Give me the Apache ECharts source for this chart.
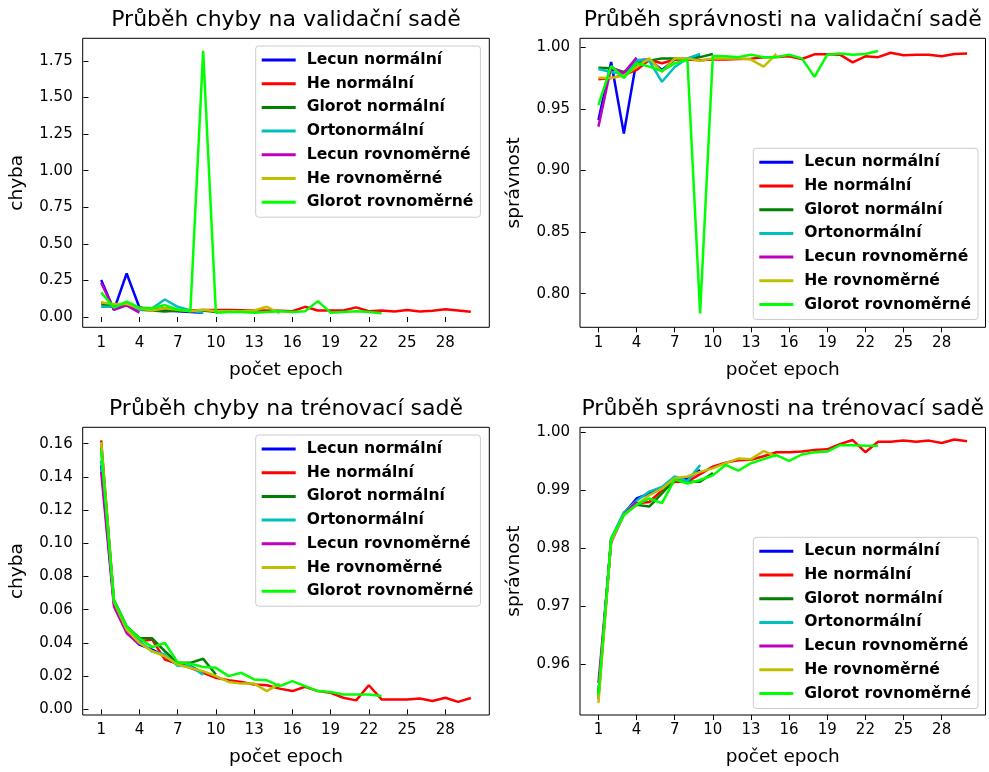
<!DOCTYPE html>
<html><head><meta charset="utf-8">
<script src="https://cdn.jsdelivr.net/npm/echarts@6/dist/echarts.min.js"></script>
<style>html,body{margin:0;padding:0;background:#fff}#c{width:989px;height:772px}</style>
</head><body><div id="c"></div>
<script>
// ---- categories / labels ----
const seriesNames = ['Lecun normální','He normální','Glorot normální','Ortonormální','Lecun rovnoměrné','He rovnoměrné','Glorot rovnoměrné'];
const xTicks = [1,4,7,10,13,16,19,22,25,28];
const yTicksValLoss = [0,0.25,0.5,0.75,1,1.25,1.5,1.75];
const yTicksValAcc = [0.80,0.85,0.90,0.95,1.00];
const yTicksTrainLoss = [0,0.02,0.04,0.06,0.08,0.10,0.12,0.14,0.16];
const yTicksTrainAcc = [0.96,0.97,0.98,0.99,1.00];
const titles = ['Průběh chyby na validační sadě','Průběh správnosti na validační sadě','Průběh chyby na trénovací sadě','Průběh správnosti na trénovací sadě'];
const xName = 'počet epoch';
const yNames = ['chyba','správnost','chyba','správnost'];

// ---- validation loss ----
const lecunNormalValLoss = [0.253,0.048,0.298,0.065,0.05,0.045,0.04,0.035,0.03];
const heNormalValLoss = [0.098,0.085,0.08,0.065,0.05,0.06,0.05,0.045,0.048,0.048,0.048,0.047,0.045,0.045,0.043,0.04,0.07,0.045,0.045,0.045,0.066,0.04,0.045,0.038,0.048,0.038,0.043,0.053,0.045,0.036];
const glorotNormalValLoss = [0.085,0.08,0.08,0.05,0.045,0.038,0.045,0.04,0.045,0.035];
const orthonormalValLoss = [0.07,0.07,0.085,0.05,0.06,0.12,0.07,0.045,0.03];
const lecunUniformValLoss = [0.235,0.05,0.08,0.03];
const heUniformValLoss = [0.1,0.09,0.09,0.06,0.045,0.06,0.05,0.04,0.05,0.04,0.04,0.04,0.045,0.07,0.026];
const glorotUniformValLoss = [0.169,0.064,0.105,0.064,0.06,0.082,0.05,0.043,1.82,0.03,0.035,0.035,0.03,0.035,0.04,0.035,0.04,0.109,0.03,0.035,0.04,0.035,0.026];

// ---- validation accuracy ----
const lecunNormalValAcc = [0.941,0.988,0.930,0.9895,0.990,0.9816,0.990,0.991,0.993];
const heNormalValAcc = [0.974,0.975,0.9775,0.9816,0.9897,0.987,0.990,0.990,0.9895,0.990,0.990,0.9905,0.9908,0.992,0.9922,0.9927,0.9905,0.9943,0.9943,0.994,0.9878,0.9927,0.992,0.9956,0.9935,0.994,0.994,0.9927,0.9945,0.995];
const glorotNormalValAcc = [0.9834,0.983,0.980,0.987,0.989,0.991,0.991,0.990,0.992,0.9945];
const orthonormalValAcc = [0.9824,0.980,0.978,0.9896,0.989,0.972,0.984,0.991,0.9946];
const lecunUniformValAcc = [0.9356,0.984,0.979,0.9916];
const heUniformValAcc = [0.9753,0.975,0.977,0.984,0.991,0.980,0.991,0.991,0.989,0.991,0.991,0.991,0.990,0.9843,0.9946];
const glorotUniformValAcc = [0.953,0.9848,0.9752,0.987,0.9843,0.9808,0.987,0.990,0.784,0.993,0.9927,0.992,0.994,0.992,0.992,0.994,0.991,0.976,0.994,0.995,0.994,0.9945,0.997];

// ---- training loss ----
const lecunNormalTrainLoss = [0.147,0.064,0.047,0.039,0.036,0.032,0.027,0.026,0.022];
const heNormalTrainLoss = [0.162,0.065,0.047,0.041,0.042,0.030,0.0275,0.025,0.022,0.019,0.0175,0.0165,0.015,0.0145,0.0125,0.011,0.0136,0.011,0.010,0.007,0.0054,0.0145,0.006,0.006,0.006,0.0065,0.005,0.007,0.0045,0.0068];
const glorotNormalTrainLoss = [0.158,0.066,0.050,0.043,0.0428,0.035,0.028,0.028,0.0305,0.021];
const orthonormalTrainLoss = [0.150,0.065,0.049,0.041,0.0349,0.033,0.0263,0.026,0.0209];
const lecunUniformTrainLoss = [0.143,0.062,0.046,0.039];
const heUniformTrainLoss = [0.161,0.065,0.048,0.040,0.035,0.032,0.027,0.025,0.023,0.020,0.0165,0.0155,0.0155,0.011,0.0155];
const glorotUniformTrainLoss = [0.156,0.0657,0.0498,0.0428,0.0375,0.040,0.0283,0.0275,0.0255,0.025,0.020,0.022,0.018,0.0175,0.014,0.017,0.014,0.011,0.0105,0.009,0.009,0.009,0.008];

// ---- training accuracy ----
const lecunNormalTrainAcc = [0.9550,0.9815,0.9860,0.9886,0.9895,0.9905,0.9915,0.9920,0.9935];
const heNormalTrainAcc = [0.9540,0.9815,0.9860,0.9878,0.9880,0.9900,0.9915,0.9915,0.9928,0.9941,0.9948,0.9952,0.9953,0.9959,0.9966,0.9966,0.9967,0.9970,0.9971,0.9980,0.9987,0.9966,0.9984,0.9984,0.9986,0.9984,0.9986,0.9982,0.9988,0.9985];
const glorotNormalTrainAcc = [0.9550,0.9815,0.9860,0.9875,0.9872,0.9895,0.9919,0.9915,0.9915,0.9930];
const orthonormalTrainAcc = [0.9545,0.9817,0.9862,0.9882,0.9898,0.9906,0.9924,0.9916,0.9944];
const lecunUniformTrainAcc = [0.9567,0.9810,0.9858,0.9880];
const heUniformTrainAcc = [0.9533,0.9812,0.9858,0.9875,0.9892,0.9903,0.9921,0.9924,0.9932,0.9938,0.9947,0.9955,0.9954,0.9968,0.9959];
const glorotUniformTrainAcc = [0.9547,0.9817,0.9857,0.9875,0.9886,0.9878,0.9919,0.9912,0.9918,0.9926,0.9944,0.9934,0.9947,0.9954,0.9961,0.9951,0.9962,0.9966,0.9967,0.9978,0.9978,0.9977,0.9977];

// ---- styles / layout ----
const colors = ['#0000ff','#ff0000','#008000','#00bfbf','#bf00bf','#bfbf00','#00ff00'];
const FONT = 'DejaVu Sans';
const grids = [
  {left: 82.7, top: 38.3, width: 406.6, height: 289},
  {left: 580, top: 38.3, width: 405.5, height: 289},
  {left: 82.7, top: 427.3, width: 406.6, height: 287.7},
  {left: 580, top: 427.3, width: 405.5, height: 287.7}
];
const yRanges = [[-0.07,1.905],[0.7727,1.0073],[-0.0034,0.1699],[0.9512,1.0009]];
const legendPos = [[255.7,46],[753.3,148.3],[255.7,435],[753.3,537.3]];
const titleTops = [7,7,396,396];

const plots = [
  [lecunNormalValLoss,heNormalValLoss,glorotNormalValLoss,orthonormalValLoss,lecunUniformValLoss,heUniformValLoss,glorotUniformValLoss],
  [lecunNormalValAcc,heNormalValAcc,glorotNormalValAcc,orthonormalValAcc,lecunUniformValAcc,heUniformValAcc,glorotUniformValAcc],
  [lecunNormalTrainLoss,heNormalTrainLoss,glorotNormalTrainLoss,orthonormalTrainLoss,lecunUniformTrainLoss,heUniformTrainLoss,glorotUniformTrainLoss],
  [lecunNormalTrainAcc,heNormalTrainAcc,glorotNormalTrainAcc,orthonormalTrainAcc,lecunUniformTrainAcc,heUniformTrainAcc,glorotUniformTrainAcc]
];
const yTickSets = [yTicksValLoss,yTicksValAcc,yTicksTrainLoss,yTicksTrainAcc];

const option = {
  animation: false,
  backgroundColor: '#fff',
  textStyle: {fontFamily: FONT},
  title: titles.map((t,i)=>({
    text: t, left: grids[i].left + grids[i].width/2, top: titleTops[i], textAlign: 'center', padding: 0,
    textStyle: {fontFamily: FONT, fontSize: 22, fontWeight: 'normal', color: '#000', lineHeight: 26}
  })),
  grid: grids.map(g=>Object.assign({show: true, borderColor: '#000', borderWidth: 1, backgroundColor: 'transparent', containLabel: false}, g)),
  legend: legendPos.map(p=>({
    data: seriesNames, orient: 'vertical', left: p[0], top: p[1],
    icon: 'rect', itemWidth: 34, itemHeight: 3, itemGap: 5.7,
    padding: [5, 7, 6, 6],
    backgroundColor: 'rgba(255,255,255,0.8)', borderColor: '#cccccc', borderWidth: 1, borderRadius: 3,
    selectedMode: false,
    textStyle: {fontFamily: FONT, fontSize: 15.6, fontWeight: 'bold', color: '#000', lineHeight: 18, padding: [0,0,0,6]}
  })),
  xAxis: grids.map((g,i)=>({
    type: 'value', gridIndex: i, min: -0.45, max: 31.45,
    name: xName, nameLocation: 'middle', nameGap: 33,
    nameTextStyle: {fontFamily: FONT, fontSize: 18.5, color: '#000'},
    axisLine: {show: false},
    splitLine: {show: false},
    axisTick: {show: true, length: 5, inside: false, lineStyle: {color: '#000', width: 1}, customValues: xTicks},
    axisLabel: {show: true, margin: 8, fontFamily: FONT, fontSize: 15, color: '#000', customValues: xTicks, formatter: v=>String(v)}
  })),
  yAxis: grids.map((g,i)=>({
    type: 'value', gridIndex: i, min: yRanges[i][0], max: yRanges[i][1],
    name: yNames[i], nameLocation: 'middle', nameGap: 56, nameRotate: 90,
    nameTextStyle: {fontFamily: FONT, fontSize: 18.5, color: '#000'},
    axisLine: {show: false},
    splitLine: {show: false},
    axisTick: {show: true, length: 5, inside: false, lineStyle: {color: '#000', width: 1}, customValues: yTickSets[i]},
    axisLabel: {show: true, margin: 10, fontFamily: FONT, fontSize: 15, color: '#000', customValues: yTickSets[i], formatter: v=>v.toFixed(2)}
  })),
  series: []
};

plots.forEach((plot, pi)=>{
  plot.forEach((vals, si)=>{
    option.series.push({
      type: 'line', name: seriesNames[si], xAxisIndex: pi, yAxisIndex: pi,
      data: vals.map((v,k)=>[k+1, v]),
      showSymbol: false, symbol: 'none', color: colors[si],
      lineStyle: {width: 2.5, color: colors[si]},
      z: 2 + si, silent: true
    });
  });
});

const chart = echarts.init(document.getElementById('c'), null, {renderer: 'canvas'});
chart.setOption(option);
</script>
</body></html>
